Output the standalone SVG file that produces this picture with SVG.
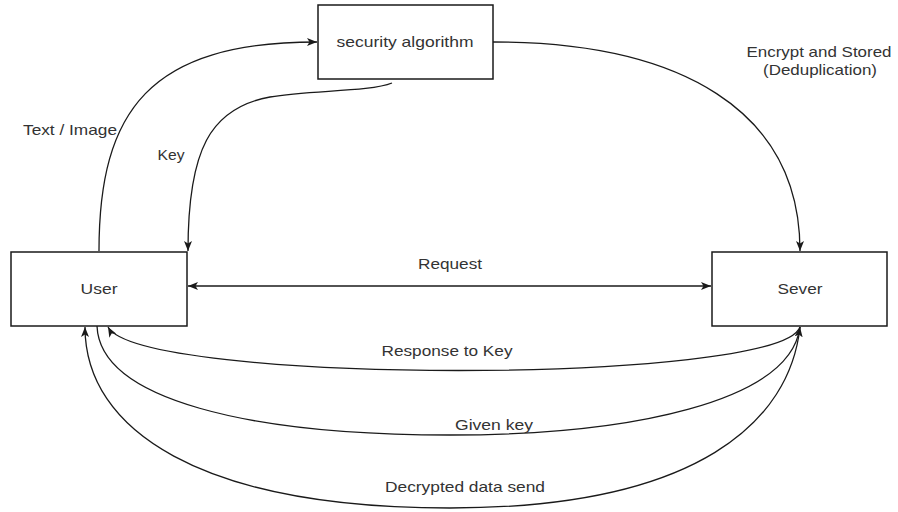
<svg xmlns="http://www.w3.org/2000/svg" width="898" height="512" viewBox="0 0 898 512">
  <style>
    .box { fill: #ffffff; stroke: #1a1a1a; stroke-width: 1.5; }
    .edge { fill: none; stroke: #1a1a1a; stroke-width: 1.3; }
    .lbl { font-family: "Liberation Sans", Arial, sans-serif; font-size: 15px; fill: #333333; text-anchor: middle; }
  </style>
  <defs>
    <marker id="arrow" viewBox="0 0 10 8" refX="10" refY="4" markerWidth="10" markerHeight="8" markerUnits="userSpaceOnUse" orient="auto-start-reverse">
      <path d="M0,0 L10,4 L0,8 L2.5,4 Z" fill="#1a1a1a"/>
    </marker>
  </defs>
  <rect width="898" height="512" fill="#ffffff"/>

  <g id="connectors">
    <!-- Text / Image: User -> security algorithm -->
    <path class="edge" d="M99,251 C99,110 150,42 317,42" marker-end="url(#arrow)"/>
    <!-- Key: security algorithm -> User -->
    <path class="edge" d="M392,83 C370,92 310,90 270,97 C210,108 188,150 188,251" marker-end="url(#arrow)"/>
    <!-- Encrypt and Stored: security algorithm -> Sever -->
    <path class="edge" d="M493,42 C680,42 800,110 800,251" marker-end="url(#arrow)"/>
    <!-- Request: User <-> Sever -->
    <path class="edge" d="M188,286 L711,286" marker-start="url(#arrow)" marker-end="url(#arrow)"/>
    <!-- Response to Key: Sever -> User -->
    <path class="edge" d="M800,327 C780,385 140,385 108,327" marker-end="url(#arrow)"/>
    <!-- Given key: User -> Sever -->
    <path class="edge" d="M97,326 C100,400 250,435 450,435 C630,435 790,402 800,327" marker-end="url(#arrow)"/>
    <!-- Decrypted data send: Sever -> User -->
    <path class="edge" d="M800,327 C790,420 700,508 450,508 C200,508 85,430 85,327" marker-end="url(#arrow)"/>

    <text class="lbl" x="70" y="135" textLength="94" lengthAdjust="spacingAndGlyphs">Text / Image</text>
    <text class="lbl" x="171" y="160" textLength="27" lengthAdjust="spacingAndGlyphs">Key</text>
    <text class="lbl" x="819" y="57" textLength="145" lengthAdjust="spacingAndGlyphs">Encrypt and Stored</text>
    <text class="lbl" x="820" y="75" textLength="114" lengthAdjust="spacingAndGlyphs">(Deduplication)</text>
    <text class="lbl" x="450" y="269" textLength="64" lengthAdjust="spacingAndGlyphs">Request</text>
    <text class="lbl" x="447" y="356" textLength="131" lengthAdjust="spacingAndGlyphs">Response to Key</text>
    <text class="lbl" x="494" y="430" textLength="78" lengthAdjust="spacingAndGlyphs">Given key</text>
    <text class="lbl" x="465" y="492" textLength="160" lengthAdjust="spacingAndGlyphs">Decrypted data send</text>
  </g>

  <g id="security-algorithm">
    <rect class="box" x="318" y="5" width="175" height="74"/>
    <text class="lbl" x="405" y="47" textLength="137" lengthAdjust="spacingAndGlyphs">security algorithm</text>
  </g>
  <g id="user">
    <rect class="box" x="11" y="252" width="176" height="74"/>
    <text class="lbl" x="99" y="294" textLength="37" lengthAdjust="spacingAndGlyphs">User</text>
  </g>
  <g id="sever">
    <rect class="box" x="712" y="252" width="175" height="74"/>
    <text class="lbl" x="800" y="294" textLength="45" lengthAdjust="spacingAndGlyphs">Sever</text>
  </g>
</svg>
